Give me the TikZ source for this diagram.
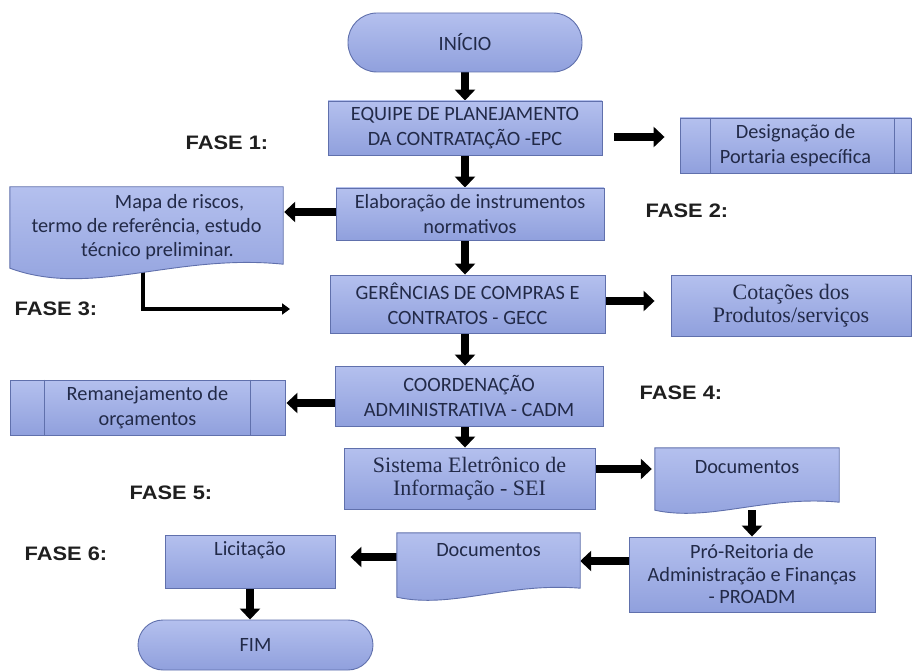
\documentclass[tikz,border=0pt]{standalone}
\usepackage{fontspec}
\setmainfont{Carlito}
\newfontfamily\serifb{Liberation Serif}
\newfontfamily\fasefont[FakeStretch=1.12]{Liberation Sans}
\usetikzlibrary{arrows.meta,calc}
\pgfdeclarelayer{bg}\pgfdeclarelayer{mid}
\pgfsetlayers{bg,mid,main}
\definecolor{ftop}{RGB}{180,192,238}
\definecolor{fbot}{RGB}{144,160,221}
\definecolor{edgec}{RGB}{96,112,172}
\definecolor{txt}{RGB}{34,42,72}
\tikzset{
  base/.style={draw=edgec,line width=0.9pt,top color=ftop,bottom color=fbot,text=txt,align=center,inner sep=0pt,font=\fontsize{20.3}{25}\selectfont},
  box/.style={base,rectangle},
  serifbox/.style={base,rectangle,font=\serifb\fontsize{22}{23.5}\selectfont},
  term/.style={base,rectangle},
  docn/.style={rectangle,inner sep=0pt,text=txt,align=center,font=\fontsize{20.3}{24}\selectfont},
  docstyle/.style={draw=edgec,line width=0.9pt,top color=ftop,bottom color=fbot},
  fase/.style={text=black!88,font=\fasefont\bfseries\fontsize{19.5}{22}\selectfont},
  bar/.style={draw=black,line width=8pt,-{Triangle[width=20pt,length=11pt]}},
  elbow/.style={draw=black,line width=4.5pt,-{Triangle[width=11pt,length=8pt]}},
  inner line/.style={draw=edgec,line width=0.9pt}
}
\newcommand\docshape[4]{%
  \path[docstyle] (#1.north west) -- (#1.north east) -- ([shift={(0,-#2)}]#1.south east)
    .. controls ($(#1.south west)!0.6!(#1.south east)+(0,-#3)$) and ($(#1.south west)!0.3!(#1.south east)+(0,#4)$) .. (#1.south west) -- cycle;}
\begin{document}
\begin{tikzpicture}[x=1pt,y=-1pt]
\useasboundingbox (0,0) rectangle (912,671);

% terminators and boxes
\node[term,rounded corners=29pt,minimum width=234pt,minimum height=59pt] (inicio) at (465,42.5) {INÍCIO};
\node[box,minimum width=274pt,minimum height=54pt] (epc) at (465,128) {EQUIPE DE PLANEJAMENTO\\DA CONTRATAÇÃO -EPC};
\node[box,minimum width=231pt,minimum height=55pt] (desig) at (795.5,145.5) {Designação de\\Portaria específica};
\draw[inner line] ([xshift=31pt]desig.north west) -- ([xshift=31pt]desig.south west);
\draw[inner line] ([xshift=-17pt]desig.north east) -- ([xshift=-17pt]desig.south east);
\node[box,minimum width=268pt,minimum height=52pt] (elab) at (470,214) {Elaboração de instrumentos\\normativos};

\node[docn,minimum width=273pt,minimum height=81pt] (mapa) at (146.5,227.5) {\hspace*{66pt}Mapa de riscos,\\termo de referência, estudo\\\hspace*{22pt}técnico preliminar.};
\begin{pgfonlayer}{mid}\docshape{mapa}{4}{15}{30}\end{pgfonlayer}

\node[box,minimum width=275pt,minimum height=58pt] (gecc) at (467.5,304) {GERÊNCIAS DE COMPRAS E\\CONTRATOS - GECC};
\node[serifbox,minimum width=240pt,minimum height=61pt] (cot) at (791,305.5) {Cotações dos\\Produtos/serviços};
\node[box,minimum width=268pt,minimum height=60pt] (coord) at (469,396) {COORDENAÇÃO\\ADMINISTRATIVA - CADM};
\node[box,minimum width=275pt,minimum height=55pt] (reman) at (147.5,407.5) {Remanejamento de\\orçamentos};
\draw[inner line] ([xshift=35pt]reman.north west) -- ([xshift=35pt]reman.south west);
\draw[inner line] ([xshift=-35pt]reman.north east) -- ([xshift=-35pt]reman.south east);
\node[serifbox,minimum width=251pt,minimum height=61pt] (sei) at (469.5,478.5) {Sistema Eletrônico de\\Informação - SEI};

\node[docn,minimum width=184pt,minimum height=62pt] (doc1) at (747,479) {Documentos\\\mbox{}};
\begin{pgfonlayer}{mid}\docshape{doc1}{8}{15}{12}\end{pgfonlayer}

\node[box,minimum width=246pt,minimum height=75pt,font=\fontsize{20.3}{22.5}\selectfont] (proadm) at (752,574.5) {Pró-Reitoria de\\Administração e Finanças\\- PROADM};

\node[docn,minimum width=183pt,minimum height=64pt] (doc2) at (488.5,565) {Documentos\\[6pt]\mbox{}};
\begin{pgfonlayer}{mid}\docshape{doc2}{9}{15}{12}\end{pgfonlayer}

\node[box,minimum width=170pt,minimum height=53pt] (lic) at (250,561.5) {Licitação\\\mbox{}};
\node[term,rounded corners=25pt,minimum width=235pt,minimum height=50pt] (fim) at (255.5,645) {FIM};

% phase labels
\node[fase] (f1) at (227,143) {FASE 1:};
\node[fase] (f2) at (687,211) {FASE 2:};
\node[fase] (f3) at (56,309) {FASE 3:};
\node[fase] (f4) at (681,393) {FASE 4:};
\node[fase] (f5) at (171,493) {FASE 5:};
\node[fase] (f6) at (66,554) {FASE 6:};

\coordinate (elbowend) at (290,309);

% connectors
\begin{pgfonlayer}{bg}
\draw[bar] (inicio.south) -- (epc.north);
\draw[bar] ([shift={(12,9)}]epc.east) -- ([shift={(-15,-8.5)}]desig.west);
\draw[bar] (epc.south) -- (epc.south |- elab.north);
\draw[bar] ([shift={(0,-2)}]elab.west) -- ([shift={(1,-15.5)}]mapa.east);
\draw[bar] (elab.south -| epc.south) -- (gecc.north -| epc.south);
\draw[elbow] ([xshift=-3.5pt]mapa.south) |- (elbowend);
\draw[bar] ([shift={(0,-3)}]gecc.east) -- ([shift={(-16,-4.5)}]cot.west);
\draw[bar] (gecc.south -| epc.south) -- (coord.north -| epc.south);
\draw[bar] ([shift={(0,7)}]coord.west) -- ([shift={(1,-4.5)}]reman.east);
\draw[bar] (coord.south -| epc.south) -- (sei.north -| epc.south);
\draw[bar] ([shift={(0,-9.5)}]sei.east) -- ([shift={(-3,-10)}]doc1.west);
\draw[bar] (doc1.south -| proadm.north) -- (proadm.north);
\draw[bar] ([shift={(0,-13.5)}]proadm.west) -- ([shift={(0,-4)}]doc2.east);
\draw[bar] ([shift={(0,-8)}]doc2.west) -- ([shift={(15,-4.5)}]lic.east);
\draw[bar] (lic.south) -- (lic.south |- fim.north);
\end{pgfonlayer}
\end{tikzpicture}
\end{document}
